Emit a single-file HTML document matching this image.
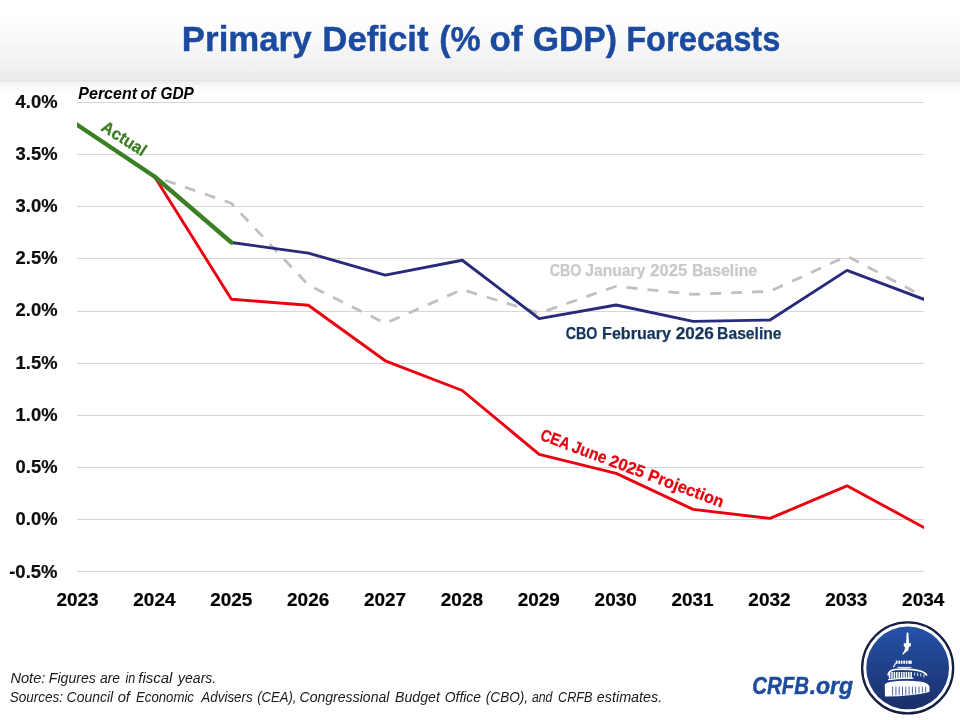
<!DOCTYPE html>
<html><head><meta charset="utf-8"><title>Primary Deficit (% of GDP) Forecasts</title>
<style>
html,body{margin:0;padding:0;background:#fff;width:960px;height:720px;overflow:hidden}
svg{display:block;will-change:transform}
text{font-family:"Liberation Sans",sans-serif}
</style></head><body>
<svg width="960" height="720" viewBox="0 0 960 720">
<defs>
<linearGradient id="band" x1="0" y1="0" x2="0" y2="1">
<stop offset="0" stop-color="#ffffff"/><stop offset="0.22" stop-color="#ffffff"/><stop offset="0.5" stop-color="#f9f9f9"/><stop offset="1" stop-color="#ececec"/>
</linearGradient>
<linearGradient id="shadow" x1="0" y1="0" x2="0" y2="1">
<stop offset="0" stop-color="#dedede"/><stop offset="0.12" stop-color="#eeeeee"/><stop offset="0.5" stop-color="#fafafa"/><stop offset="1" stop-color="#ffffff"/>
</linearGradient>
<linearGradient id="disk" x1="0" y1="0" x2="0" y2="1">
<stop offset="0" stop-color="#2552a8"/><stop offset="1" stop-color="#1a2e68"/>
</linearGradient>
<clipPath id="plot"><rect x="77" y="85" width="847" height="500"/></clipPath>
</defs>
<rect x="0" y="0" width="960" height="720" fill="#ffffff"/>
<rect x="0" y="0" width="960" height="80" fill="url(#band)"/>
<rect x="0" y="80" width="960" height="14" fill="url(#shadow)"/>
<g font-weight="bold" font-size="34.6" fill="#1c4a9e" stroke="#1c4a9e" stroke-width="0.4"><text x="181.87" y="50.50" textLength="129.67" lengthAdjust="spacingAndGlyphs">Primary</text><text x="322.35" y="50.50" textLength="106.26" lengthAdjust="spacingAndGlyphs">Deficit</text><text x="439.17" y="50.50" textLength="41.42" lengthAdjust="spacingAndGlyphs">(%</text><text x="489.53" y="50.50" textLength="33.10" lengthAdjust="spacingAndGlyphs">of</text><text x="532.70" y="50.50" textLength="84.40" lengthAdjust="spacingAndGlyphs">GDP)</text><text x="626.14" y="50.50" textLength="154.28" lengthAdjust="spacingAndGlyphs">Forecasts</text></g>
<g fill="#d6d6d6" shape-rendering="crispEdges"><rect x="77" width="847" y="102" height="1"/><rect x="77" width="847" y="154" height="1"/><rect x="77" width="847" y="206" height="1"/><rect x="77" width="847" y="258" height="1"/><rect x="77" width="847" y="311" height="1"/><rect x="77" width="847" y="363" height="1"/><rect x="77" width="847" y="415" height="1"/><rect x="77" width="847" y="467" height="1"/><rect x="77" width="847" y="519" height="1"/><rect x="77" width="847" y="571" height="1"/></g>
<g font-weight="bold" font-size="18" fill="#0d0d0d" stroke="#0d0d0d" stroke-width="0.2"><text x="15.62" y="107.50" textLength="41.87" lengthAdjust="spacingAndGlyphs">4.0%</text><text x="15.62" y="159.74" textLength="41.87" lengthAdjust="spacingAndGlyphs">3.5%</text><text x="15.62" y="211.98" textLength="41.87" lengthAdjust="spacingAndGlyphs">3.0%</text><text x="15.62" y="264.22" textLength="41.87" lengthAdjust="spacingAndGlyphs">2.5%</text><text x="15.62" y="316.46" textLength="41.87" lengthAdjust="spacingAndGlyphs">2.0%</text><text x="15.62" y="368.70" textLength="41.87" lengthAdjust="spacingAndGlyphs">1.5%</text><text x="15.62" y="420.94" textLength="41.87" lengthAdjust="spacingAndGlyphs">1.0%</text><text x="15.62" y="473.18" textLength="41.87" lengthAdjust="spacingAndGlyphs">0.5%</text><text x="15.62" y="525.42" textLength="41.87" lengthAdjust="spacingAndGlyphs">0.0%</text><text x="9.19" y="577.66" textLength="48.38" lengthAdjust="spacingAndGlyphs">-0.5%</text></g>
<g font-weight="bold" font-size="18" fill="#000000" stroke="#000000" stroke-width="0.2"><text x="56.44" y="606.10" textLength="42.16" lengthAdjust="spacingAndGlyphs">2023</text><text x="133.32" y="606.10" textLength="42.16" lengthAdjust="spacingAndGlyphs">2024</text><text x="210.20" y="606.10" textLength="42.16" lengthAdjust="spacingAndGlyphs">2025</text><text x="287.08" y="606.10" textLength="42.16" lengthAdjust="spacingAndGlyphs">2026</text><text x="363.96" y="606.10" textLength="42.16" lengthAdjust="spacingAndGlyphs">2027</text><text x="440.84" y="606.10" textLength="42.16" lengthAdjust="spacingAndGlyphs">2028</text><text x="517.72" y="606.10" textLength="42.16" lengthAdjust="spacingAndGlyphs">2029</text><text x="594.60" y="606.10" textLength="42.16" lengthAdjust="spacingAndGlyphs">2030</text><text x="671.48" y="606.10" textLength="42.16" lengthAdjust="spacingAndGlyphs">2031</text><text x="748.36" y="606.10" textLength="42.16" lengthAdjust="spacingAndGlyphs">2032</text><text x="825.24" y="606.10" textLength="42.16" lengthAdjust="spacingAndGlyphs">2033</text><text x="902.12" y="606.10" textLength="42.16" lengthAdjust="spacingAndGlyphs">2034</text></g>
<g font-weight="bold" font-style="italic" font-size="16.4" fill="#000"><text x="78.37" y="98.70" textLength="58.62" lengthAdjust="spacingAndGlyphs">Percent</text><text x="140.46" y="98.70" textLength="15.05" lengthAdjust="spacingAndGlyphs">of</text><text x="160.44" y="98.70" textLength="33.44" lengthAdjust="spacingAndGlyphs">GDP</text></g>
<g fill="none" stroke-linejoin="round" clip-path="url(#plot)">
<polyline points="77.50,125.00 154.45,176.50 231.40,203.30 308.35,285.00 385.30,323.40 462.25,289.50 539.20,313.20 616.15,286.25 693.10,294.40 770.05,291.25 847.00,256.00 923.95,296.70 926.60,298.10" stroke="#c0c0c0" stroke-width="2.8" stroke-dasharray="11 10" stroke-dashoffset="1.1"/>
<polyline points="154.45,176.50 231.40,299.20 308.35,305.30 385.30,360.80 462.25,390.50 539.20,454.40 616.15,473.40 693.10,509.40 770.05,518.40 847.00,485.80 923.95,527.50 926.59,528.93" stroke="#ec000f" stroke-width="2.9"/>
<polyline points="231.40,242.50 308.35,253.10 385.30,275.10 462.25,260.25 539.20,318.60 616.15,305.00 693.10,321.40 770.05,320.00 847.00,270.40 923.95,299.40 926.76,300.46" stroke="#272b7a" stroke-width="2.9"/>
<polyline points="75.01,123.33 77.50,125.00 154.45,176.50 231.40,242.50" stroke="#3b7f24" stroke-width="4.3" stroke-linecap="round"/>
</g>
<g font-weight="bold" font-size="16.4">
<g fill="#c9c9c9" stroke="#c9c9c9" stroke-width="0.25"><text x="549.68" y="275.50" textLength="31.78" lengthAdjust="spacingAndGlyphs">CBO</text><text x="585.35" y="275.50" textLength="59.99" lengthAdjust="spacingAndGlyphs">January</text><text x="650.39" y="275.50" textLength="36.91" lengthAdjust="spacingAndGlyphs">2025</text><text x="691.89" y="275.50" textLength="65.32" lengthAdjust="spacingAndGlyphs">Baseline</text></g>
<g fill="#17365d" stroke="#17365d" stroke-width="0.25"><text x="565.67" y="338.60" textLength="31.71" lengthAdjust="spacingAndGlyphs">CBO</text><text x="602.10" y="338.60" textLength="68.85" lengthAdjust="spacingAndGlyphs">February</text><text x="675.68" y="338.60" textLength="38.09" lengthAdjust="spacingAndGlyphs">2026</text><text x="717.12" y="338.60" textLength="64.44" lengthAdjust="spacingAndGlyphs">Baseline</text></g>
</g>
<g font-weight="bold" font-size="16.8">
<g transform="translate(100.4 130) rotate(32.7)" fill="#3a7d22" stroke="#3a7d22" stroke-width="0.25"><text x="-0.33" y="0.00" textLength="49.75" lengthAdjust="spacingAndGlyphs">Actual</text></g>
<g transform="translate(539.6 439.5) rotate(20.56)" fill="#e8000f" stroke="#e8000f" stroke-width="0.25"><text x="-0.34" y="0.00" textLength="30.44" lengthAdjust="spacingAndGlyphs">CEA</text><text x="33.33" y="0.00" textLength="36.00" lengthAdjust="spacingAndGlyphs">June</text><text x="73.12" y="0.00" textLength="36.76" lengthAdjust="spacingAndGlyphs">2025</text><text x="114.47" y="0.00" textLength="79.55" lengthAdjust="spacingAndGlyphs">Projection</text></g>
</g>
<g font-style="italic" font-size="14" fill="#1a1a1a"><text x="10.41" y="683.00" textLength="34.94" lengthAdjust="spacingAndGlyphs">Note:</text><text x="48.85" y="683.00" textLength="46.95" lengthAdjust="spacingAndGlyphs">Figures</text><text x="100.05" y="683.00" textLength="20.00" lengthAdjust="spacingAndGlyphs">are</text><text x="125.55" y="683.00" textLength="9.81" lengthAdjust="spacingAndGlyphs">in</text><text x="138.23" y="683.00" textLength="34.15" lengthAdjust="spacingAndGlyphs">fiscal</text><text x="178.08" y="683.00" textLength="38.09" lengthAdjust="spacingAndGlyphs">years.</text><text x="9.63" y="701.60" textLength="53.47" lengthAdjust="spacingAndGlyphs">Sources:</text><text x="66.58" y="701.60" textLength="46.53" lengthAdjust="spacingAndGlyphs">Council</text><text x="117.73" y="701.60" textLength="12.24" lengthAdjust="spacingAndGlyphs">of</text><text x="136.04" y="701.60" textLength="57.93" lengthAdjust="spacingAndGlyphs">Economic</text><text x="201.33" y="701.60" textLength="51.41" lengthAdjust="spacingAndGlyphs">Advisers</text><text x="257.23" y="701.60" textLength="39.13" lengthAdjust="spacingAndGlyphs">(CEA),</text><text x="299.47" y="701.60" textLength="89.96" lengthAdjust="spacingAndGlyphs">Congressional</text><text x="394.98" y="701.60" textLength="44.88" lengthAdjust="spacingAndGlyphs">Budget</text><text x="444.76" y="701.60" textLength="36.30" lengthAdjust="spacingAndGlyphs">Office</text><text x="485.80" y="701.60" textLength="42.33" lengthAdjust="spacingAndGlyphs">(CBO),</text><text x="531.89" y="701.60" textLength="20.59" lengthAdjust="spacingAndGlyphs">and</text><text x="558.00" y="701.60" textLength="34.51" lengthAdjust="spacingAndGlyphs">CRFB</text><text x="596.83" y="701.60" textLength="65.39" lengthAdjust="spacingAndGlyphs">estimates.</text></g>
<g font-weight="bold" font-style="italic" font-size="23.2" fill="#1d4c9c" stroke="#1d4c9c" stroke-width="0.45"><text x="752.19" y="693.80" textLength="56.69" lengthAdjust="spacingAndGlyphs">CRFB</text><text x="809.63" y="693.80" textLength="43.52" lengthAdjust="spacingAndGlyphs">.org</text></g>
<g id="logo">
<circle cx="907.65" cy="667.9" r="45.5" fill="#ffffff" stroke="#141d42" stroke-width="2.3"/>
<circle cx="907.65" cy="667.9" r="41.4" fill="url(#disk)"/>
<g fill="#ffffff" stroke="none">
<path d="M907.5 632.1 L908.5 633.4 L908.7 638 L909.1 642.9 L910.9 643.3 L910.8 646.3 L909.0 646.8 L908.2 650.4 L905.9 651.9 L903.4 654.6 L902.0 654.2 L904.0 651.2 L905.3 647.6 L903.9 646.5 L903.7 643.6 L906.0 643.0 L906.4 638 L906.6 633.4 Z"/>
<rect x="895.8" y="660.6" width="1.7" height="3.2"/><rect x="898.3" y="660.6" width="1.7" height="3.2"/><rect x="900.8" y="660.6" width="1.7" height="3.2"/><rect x="903.3" y="660.6" width="1.7" height="3.2"/><rect x="905.8" y="660.6" width="1.7" height="3.2"/><rect x="908.3" y="660.6" width="1.7" height="3.2"/><rect x="910.0" y="660.6" width="1.7" height="3.2"/>
<rect x="897.4" y="666.9" width="14" height="1.3" opacity="0.85"/>
<path d="M884.7 684.6 Q886 682.6 889.5 682.1 Q905 679.8 920 681.6 Q928 682.8 929.6 686.4 L929.4 692 Q910 696.6 885 696.4 Z"/>
</g>
<g fill="none" stroke="#ffffff" stroke-linecap="round">
<path d="M893.6 666.9 L895.6 663.4" stroke-width="1.3" opacity="0.85"/>
<path d="M888.2 675 Q888.2 670.6 895 669.5 Q905 668.6 915 669.8 Q924.6 671.2 926.6 675" stroke-width="1.7"/>
<path d="M888.6 679.6 Q900 677.6 913 678.2" stroke-width="1.3"/>
<g stroke-width="1.5" stroke-linecap="butt"><line x1="889.6" y1="672" x2="889.6" y2="678.6"/><line x1="892.0" y1="672" x2="892.0" y2="678.6"/><line x1="894.4" y1="672" x2="894.4" y2="678.6"/><line x1="896.8" y1="672" x2="896.8" y2="678.6"/><line x1="899.2" y1="672" x2="899.2" y2="678.6"/><line x1="901.6" y1="672" x2="901.6" y2="678.6"/><line x1="904.0" y1="672" x2="904.0" y2="678.6"/><line x1="906.4" y1="672" x2="906.4" y2="678.6"/><line x1="908.8" y1="672" x2="908.8" y2="678.6"/><line x1="911.2" y1="672" x2="911.2" y2="678.6"/></g>
<g stroke-width="1.1" stroke-linecap="butt" opacity="0.8"><line x1="914.6" y1="672.4" x2="914.6" y2="675.5"/><line x1="917.6" y1="672.8" x2="917.6" y2="676.0"/><line x1="920.8" y1="673.3" x2="920.8" y2="676.6"/><line x1="924.0" y1="674.2" x2="924.0" y2="677.4"/></g>
</g>
<g stroke="#1f3f8c" stroke-width="1.0" fill="none" opacity="0.8"><line x1="892.6" y1="686.6" x2="892.6" y2="695.4"/><line x1="895.9" y1="686.6" x2="895.9" y2="695.4"/><line x1="899.2" y1="686.6" x2="899.2" y2="695.4"/><line x1="902.5" y1="686.6" x2="902.5" y2="695.4"/><line x1="905.8" y1="686.6" x2="905.8" y2="695.3"/><line x1="909.1" y1="686.6" x2="909.1" y2="694.7"/><line x1="912.4" y1="686.6" x2="912.4" y2="694.2"/><line x1="915.7" y1="686.6" x2="915.7" y2="693.7"/><line x1="919.0" y1="686.6" x2="919.0" y2="693.2"/><line x1="922.3" y1="686.6" x2="922.3" y2="692.6"/><line x1="925.6" y1="686.6" x2="925.6" y2="692.1"/></g>
</g>
</svg>
</body></html>
